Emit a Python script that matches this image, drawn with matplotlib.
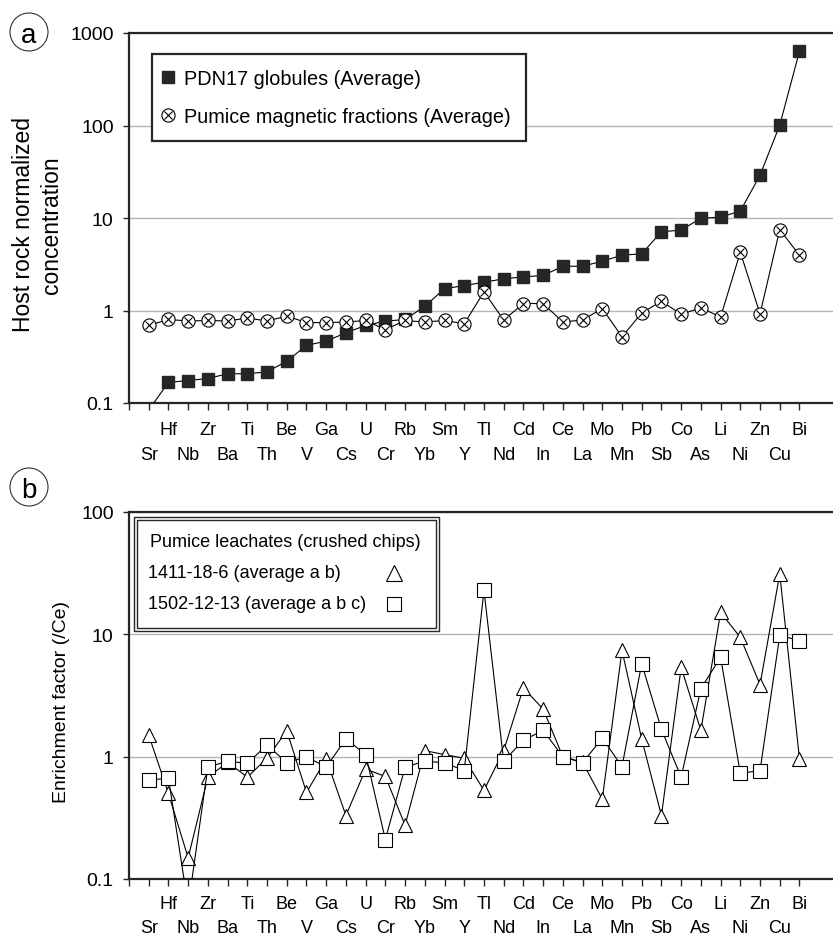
import numpy as np
import matplotlib
matplotlib.use("Agg")
import matplotlib.pyplot as plt
import matplotlib.transforms as mtransforms
from matplotlib.lines import Line2D
from matplotlib.patches import Ellipse, Rectangle
from matplotlib.ticker import FixedLocator, FuncFormatter, NullLocator

plt.rcParams['font.family'] = ['Liberation Sans', 'DejaVu Sans']

# element order along the x axis
elements = ["Sr", "Hf", "Nb", "Zr", "Ba", "Ti", "Th", "Be", "V", "Ga", "Cs", "U",
            "Cr", "Rb", "Yb", "Sm", "Y", "Tl", "Nd", "Cd", "In", "Ce", "La", "Mo",
            "Mn", "Pb", "Sb", "Co", "As", "Li", "Ni", "Zn", "Cu", "Bi"]

# (a) host rock normalized concentration
pdn17_globules = [0.084, 0.167, 0.175, 0.184, 0.207, 0.207, 0.217, 0.283, 0.42, 0.466,
                  0.574, 0.69, 0.767, 0.8, 1.11, 1.72, 1.86, 2.02, 2.2, 2.31, 2.39,
                  3.01, 3.01, 3.41, 3.96, 4.1, 7.1, 7.4, 9.95, 10.2, 11.9, 29, 101, 636]
pumice_magnetic = [0.69, 0.80, 0.77, 0.78, 0.77, 0.83, 0.77, 0.87, 0.74, 0.74, 0.75,
                   0.78, 0.62, 0.78, 0.75, 0.78, 0.72, 1.59, 0.79, 1.19, 1.19, 0.75,
                   0.79, 1.05, 0.52, 0.94, 1.26, 0.91, 1.07, 0.85, 4.27, 0.92, 7.5, 3.96]

# (b) enrichment factor (/Ce), pumice leachates
leach_1411_18_6 = [1.5, 0.50, 0.149, 0.68, 0.9, 0.68, 0.97, 1.63, 0.51, 0.96, 0.33,
                   0.79, 0.69, 0.275, 1.12, 1.04, 0.97, 0.53, 1.12, 3.65, 2.45, 1.0,
                   0.9, 0.45, 7.4, 1.39, 0.33, 5.37, 1.64, 15.1, 9.45, 3.88, 31.2, 0.96]
leach_1502_12_13 = [0.64, 0.67, 0.06, 0.82, 0.92, 0.88, 1.25, 0.89, 1.0, 0.82, 1.40,
                    1.04, 0.21, 0.82, 0.92, 0.89, 0.77, 22.9, 0.92, 1.36, 1.64, 1.0,
                    0.89, 1.42, 0.83, 5.76, 1.67, 0.68, 3.6, 6.5, 0.73, 0.77, 9.8, 8.9]

DARK = '#262626'
GRID = '#b4b4b4'
FS = 13
W, H = 833, 937

fig = plt.figure(figsize=(W / 100, H / 100), dpi=100)
ax_a = fig.add_axes([129 / W, 1 - 404 / H, 704 / W, 370 / H])
ax_b = fig.add_axes([129 / W, 1 - 880 / H, 704 / W, 367 / H])
x = np.arange(len(elements))


def style_axes(ax, ylim, yticks, rows_px):
    ax.set_yscale('log')
    ax.set_ylim(*ylim)
    ax.set_xlim(-1, 34.7)
    ax.yaxis.set_major_locator(FixedLocator(yticks))
    ax.yaxis.set_minor_locator(NullLocator())
    ax.yaxis.set_major_formatter(FuncFormatter(lambda v, p: f'{v:g}'))
    ax.set_xticks(np.arange(-1, len(elements)))
    ax.set_xticklabels([])
    ax.grid(axis='y', color=GRID, lw=1.0)
    ax.set_axisbelow(True)
    ax.spines['right'].set_visible(False)
    for s in ('left', 'top', 'bottom'):
        ax.spines[s].set_color(DARK)
        ax.spines[s].set_linewidth(1.6)
    ax.tick_params(axis='y', length=4, width=1, color=DARK, pad=7, labelsize=14)
    ax.tick_params(axis='x', length=5, width=1, color=DARK)
    # staggered element names (two rows), placed by baseline
    for i, name in enumerate(elements):
        off = -rows_px[0] if i % 2 else -rows_px[1]
        tr = mtransforms.offset_copy(ax.get_xaxis_transform(), fig=fig, y=off * 0.72,
                                     units='points')
        ax.text(i, 0, name, transform=tr, ha='center', va='baseline', fontsize=FS)


# ---- panel a
style_axes(ax_a, (0.1, 1000), [0.1, 1, 10, 100, 1000], (31, 56.5))
ax_a.plot(x, pdn17_globules, color='black', lw=0.8, marker='s', ms=8.5,
          mfc=DARK, mec=DARK, zorder=3)
ax_a.plot(x, pumice_magnetic, color='black', lw=0.8, marker='o', ms=9.5,
          mfc='white', mec='black', mew=0.8, zorder=4)
ax_a.plot(x, pumice_magnetic, ls='none', marker='x', ms=6.2, mec='black', mew=0.8, zorder=5)

h1 = Line2D([], [], ls='none', marker='s', ms=8.5, mfc=DARK, mec=DARK)
h2o = Line2D([], [], ls='none', marker='o', ms=9.5, mfc='white', mec='black', mew=0.8)
h2x = Line2D([], [], ls='none', marker='x', ms=6.2, mec='black', mew=0.8)
leg = ax_a.legend([h1, (h2o, h2x)],
                  ['PDN17 globules (Average)', 'Pumice magnetic fractions (Average)'],
                  loc='upper left', bbox_to_anchor=(23 / 704, 1 - 21 / 370),
                  borderaxespad=0, fontsize=14.3, fancybox=False, edgecolor=DARK,
                  framealpha=1, borderpad=0.76, handlelength=0.1,
                  handletextpad=0.76, labelspacing=0.97)
leg.get_frame().set_linewidth(1.6)

# ---- panel b
style_axes(ax_b, (0.1, 100), [0.1, 1, 10, 100], (29.5, 53))
ax_b.plot(x, leach_1411_18_6, color='black', lw=0.8, marker='^', ms=10.5,
          mfc='white', mec='black', mew=0.8, zorder=3)
ax_b.plot(x, leach_1502_12_13, color='black', lw=0.8, marker='s', ms=9.5,
          mfc='white', mec='black', mew=0.8, zorder=4)


# manual legend box for panel b (text left, marker right)
def fx(px):
    return (px - 129) / 704


def fy(py):
    return (880 - py) / 367


for (l, t, r, b) in [(134, 518, 439, 632), (137, 521, 436, 629)]:
    ax_b.add_patch(Rectangle((fx(l), fy(b)), fx(r) - fx(l), fy(t) - fy(b),
                             transform=ax_b.transAxes, facecolor='white',
                             edgecolor=DARK, lw=1.0, zorder=6))
ax_b.text(fx(150), fy(543), 'Pumice leachates (crushed chips)', transform=ax_b.transAxes,
          ha='left', va='center', fontsize=FS, zorder=7)
ax_b.text(fx(148), fy(574), '1411-18-6 (average a b)', transform=ax_b.transAxes,
          ha='left', va='center', fontsize=FS, zorder=7)
ax_b.text(fx(148), fy(605), '1502-12-13 (average a b c)', transform=ax_b.transAxes,
          ha='left', va='center', fontsize=FS, zorder=7)
ax_b.plot([fx(394)], [fy(573.5)], transform=ax_b.transAxes, marker='^', ms=12,
          mfc='white', mec='black', mew=0.8, zorder=7, clip_on=False)
ax_b.plot([fx(394)], [fy(604.5)], transform=ax_b.transAxes, marker='s', ms=9.5,
          mfc='white', mec='black', mew=0.8, zorder=7, clip_on=False)

# y axis titles
fig.text(37.5 / W, 1 - 225 / H, 'Host rock normalized\nconcentration', rotation=90,
         ha='center', va='center', fontsize=16.5, linespacing=1.3)
fig.text(62 / W, 1 - 702 / H, 'Enrichment factor (/Ce)', rotation=90,
         ha='center', va='center', fontsize=14)

# circled panel letters
for cx, cy, letter in [(29, 33, 'a'), (29, 488, 'b')]:
    fig.patches.append(Ellipse((cx / W, 1 - cy / H), 38 / W, 38 / H,
                               transform=fig.transFigure, fill=False,
                               ec='#333333', lw=0.8))
    fig.text(cx / W, 1 - cy / H, letter, ha='center', va='center_baseline', fontsize=20)

fig.savefig('out.png', dpi=100, facecolor='white')
